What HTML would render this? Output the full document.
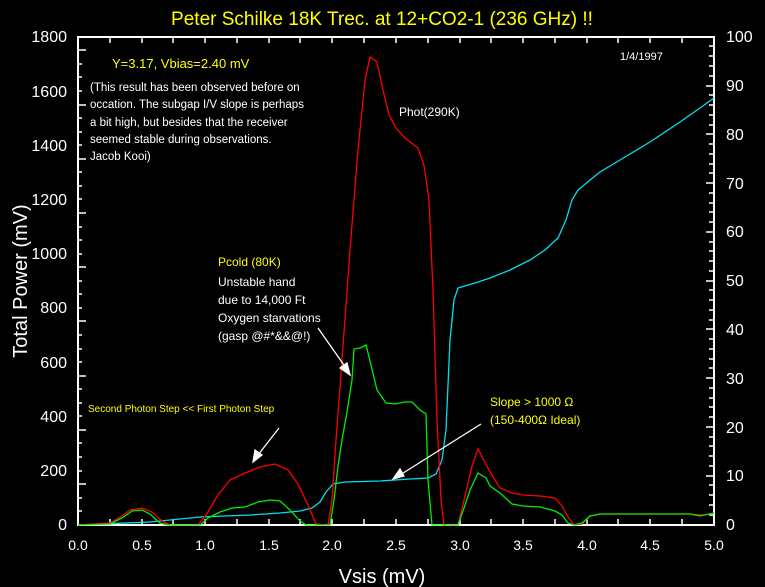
<!DOCTYPE html>
<html><head><meta charset="utf-8"><style>body{margin:0;background:#000}svg{display:block}text{font-family:"Liberation Sans",sans-serif}</style></head><body>
<svg width="765" height="587" viewBox="0 0 765 587" xmlns="http://www.w3.org/2000/svg">
<rect width="765" height="587" fill="#000"/>
<text x="382" y="25" fill="#ffff00" font-size="19" text-anchor="middle">Peter Schilke 18K Trec. at 12+CO2-1 (236 GHz) !!</text>
<g stroke="#fff" stroke-width="2" fill="none"><rect x="78" y="37" width="636" height="488"/></g>
<g stroke="#fff" stroke-width="1.5" id="ticks"></g>
<g fill="#fff" font-size="16" text-anchor="end">
<text x="67" y="42">1800</text><text x="67" y="97">1600</text><text x="67" y="151">1400</text><text x="67" y="205">1200</text><text x="67" y="259">1000</text><text x="67" y="313">800</text><text x="67" y="368">600</text><text x="67" y="422">400</text><text x="67" y="476">200</text><text x="67" y="530">0</text>
</g>
<g fill="#fff" font-size="16">
<text x="726" y="42">100</text><text x="726" y="91">90</text><text x="726" y="140">80</text><text x="726" y="189">70</text><text x="726" y="237">60</text><text x="726" y="286">50</text><text x="726" y="335">40</text><text x="726" y="384">30</text><text x="726" y="433">20</text><text x="726" y="481">10</text><text x="726" y="530">0</text>
</g>
<g fill="#fff" font-size="14" text-anchor="middle">
<text x="78" y="550">0.0</text><text x="142" y="550">0.5</text><text x="205" y="550">1.0</text><text x="269" y="550">1.5</text><text x="332" y="550">2.0</text><text x="396" y="550">2.5</text><text x="460" y="550">3.0</text><text x="523" y="550">3.5</text><text x="587" y="550">4.0</text><text x="650" y="550">4.5</text><text x="714" y="550">5.0</text>
</g>
<text x="382" y="583" fill="#fff" font-size="20" text-anchor="middle">Vsis (mV)</text>
<text transform="translate(27,281) rotate(-90)" fill="#fff" font-size="20" text-anchor="middle">Total Power (mV)</text>
<g stroke="#fff" stroke-width="1.5">
<path d="M78 50h8M78 64h4M78 77h4M78 91h4M78 105h8M78 118h4M78 132h4M78 145h4M78 159h8M78 172h4M78 186h4M78 199h4M78 213h8M78 227h4M78 240h4M78 254h4M78 267h8M78 281h4M78 294h4M78 308h4M78 321h8M78 335h4M78 349h4M78 362h4M78 376h8M78 389h4M78 403h4M78 416h4M78 430h8M78 443h4M78 457h4M78 471h4M78 484h8M78 498h4M78 511h4"/>
<path d="M714 46h-5M714 56h-5M714 66h-5M714 76h-5M714 86h-8M714 95h-5M714 105h-5M714 115h-5M714 125h-5M714 134h-8M714 144h-5M714 154h-5M714 164h-5M714 173h-5M714 183h-8M714 193h-5M714 203h-5M714 212h-5M714 222h-5M714 232h-8M714 242h-5M714 251h-5M714 261h-5M714 271h-5M714 281h-8M714 290h-5M714 300h-5M714 310h-5M714 320h-5M714 329h-8M714 339h-5M714 349h-5M714 359h-5M714 368h-5M714 378h-8M714 388h-5M714 398h-5M714 407h-5M714 417h-5M714 427h-8M714 437h-5M714 446h-5M714 456h-5M714 466h-5M714 476h-8M714 485h-5M714 495h-5M714 505h-5M714 515h-5"/>
<path d="M110 525v-6M142 525v-6M173 525v-6M205 525v-6M237 525v-6M269 525v-6M300 525v-6M332 525v-6M364 525v-6M396 525v-6M428 525v-6M460 525v-6M491 525v-6M523 525v-6M555 525v-6M587 525v-6M618 525v-6M650 525v-6M682 525v-6"/>
<path d="M110 37v6M142 37v6M173 37v6M205 37v6M237 37v6M269 37v6M300 37v6M332 37v6M364 37v6M396 37v6M428 37v6M460 37v6M491 37v6M523 37v6M555 37v6M587 37v6M618 37v6M650 37v6M682 37v6"/>
</g>
<polyline fill="none" stroke="#00e0f0" stroke-width="1.3" points="78,525 150,522 200,517 250,515 280,513 300,511 312,508 320,502 326,492 333,484 345,482 380,481 410,479 428,478 436,474 442,460 446,430 450,340 454,300 458,288 475,283 490,278 510,270 530,260 545,250 558,238 566,220 572,200 578,190 590,180 600,172 620,160 650,142 680,122 700,108 714,98"/>
<polyline fill="none" stroke="#ff0000" stroke-width="1.3" points="78,525 110,523 122,516 130,510 142,508 152,512 162,521 170,525 198,525 206,515 218,495 230,480 245,473 260,467 275,464 288,470 298,484 308,505 316,524 328,525 332,500 336,440 342,360 350,250 358,150 365,80 370,57 377,62 383,90 389,115 396,128 405,138 418,148 424,165 429,200 433,290 437,420 441,500 444,525 458,525 466,492 472,466 478,449 490,472 500,488 512,493 523,495 540,496 555,498 562,506 568,517 574,525 582,524 590,516 600,514 650,514 690,514 705,515 714,513"/>
<polyline fill="none" stroke="#00ee00" stroke-width="1.3" points="78,525 110,524 122,518 132,511 142,510 150,514 160,523 168,525 200,525 208,518 220,512 232,508 245,507 258,502 270,500 280,501 290,510 300,521 306,525 330,525 334,500 338,466 342,440 347,412 352,380 354,349 360,348 366,345 371,365 377,390 386,403 395,404 405,402 412,402 420,410 426,414 428,480 432,525 458,525 464,508 470,490 478,473 486,478 490,486 500,493 512,504 523,506 540,507 555,511 562,515 568,523 574,525 582,523 590,516 600,514 650,514 690,514 700,516 714,513"/>
<g stroke="#fff" stroke-width="1.3" fill="#fff">
<line x1="318" y1="328" x2="346" y2="368"/><polygon points="350,375 340,368 347,363"/>
<line x1="279" y1="428" x2="258" y2="455"/><polygon points="253,462 255,450 262,455"/>
<line x1="481" y1="424" x2="400" y2="475"/><polygon points="393,479 400,469 404,476"/>
</g>
<text x="112" y="68" fill="#ffff00" font-size="13">Y=3.17, Vbias=2.40 mV</text>
<text x="620" y="60" fill="#fff" font-size="11">1/4/1997</text>
<g fill="#fff" font-size="11.5"><text x="90" y="91">(This result has been observed before on</text><text x="90" y="108">occation. The subgap I/V slope is perhaps</text><text x="90" y="126">a bit high, but besides that the receiver</text><text x="90" y="143">seemed stable during observations.</text><text x="90" y="160">Jacob Kooi)</text></g>
<text x="399" y="116" fill="#fff" font-size="12">Phot(290K)</text>
<text x="218" y="266" fill="#ffff00" font-size="12">Pcold (80K)</text>
<g fill="#fff" font-size="12"><text x="218" y="286">Unstable hand</text><text x="218" y="304">due to 14,000 Ft</text><text x="218" y="322">Oxygen starvations</text><text x="218" y="340">(gasp @#*&amp;&amp;@!)</text></g>
<text x="88" y="412" fill="#ffff00" font-size="10">Second Photon Step &lt;&lt; First Photon Step</text>
<text x="490" y="406" fill="#ffff00" font-size="12">Slope &gt; 1000 Ω</text>
<text x="490" y="424" fill="#ffff00" font-size="12">(150-400Ω Ideal)</text>
</svg>
</body></html>
